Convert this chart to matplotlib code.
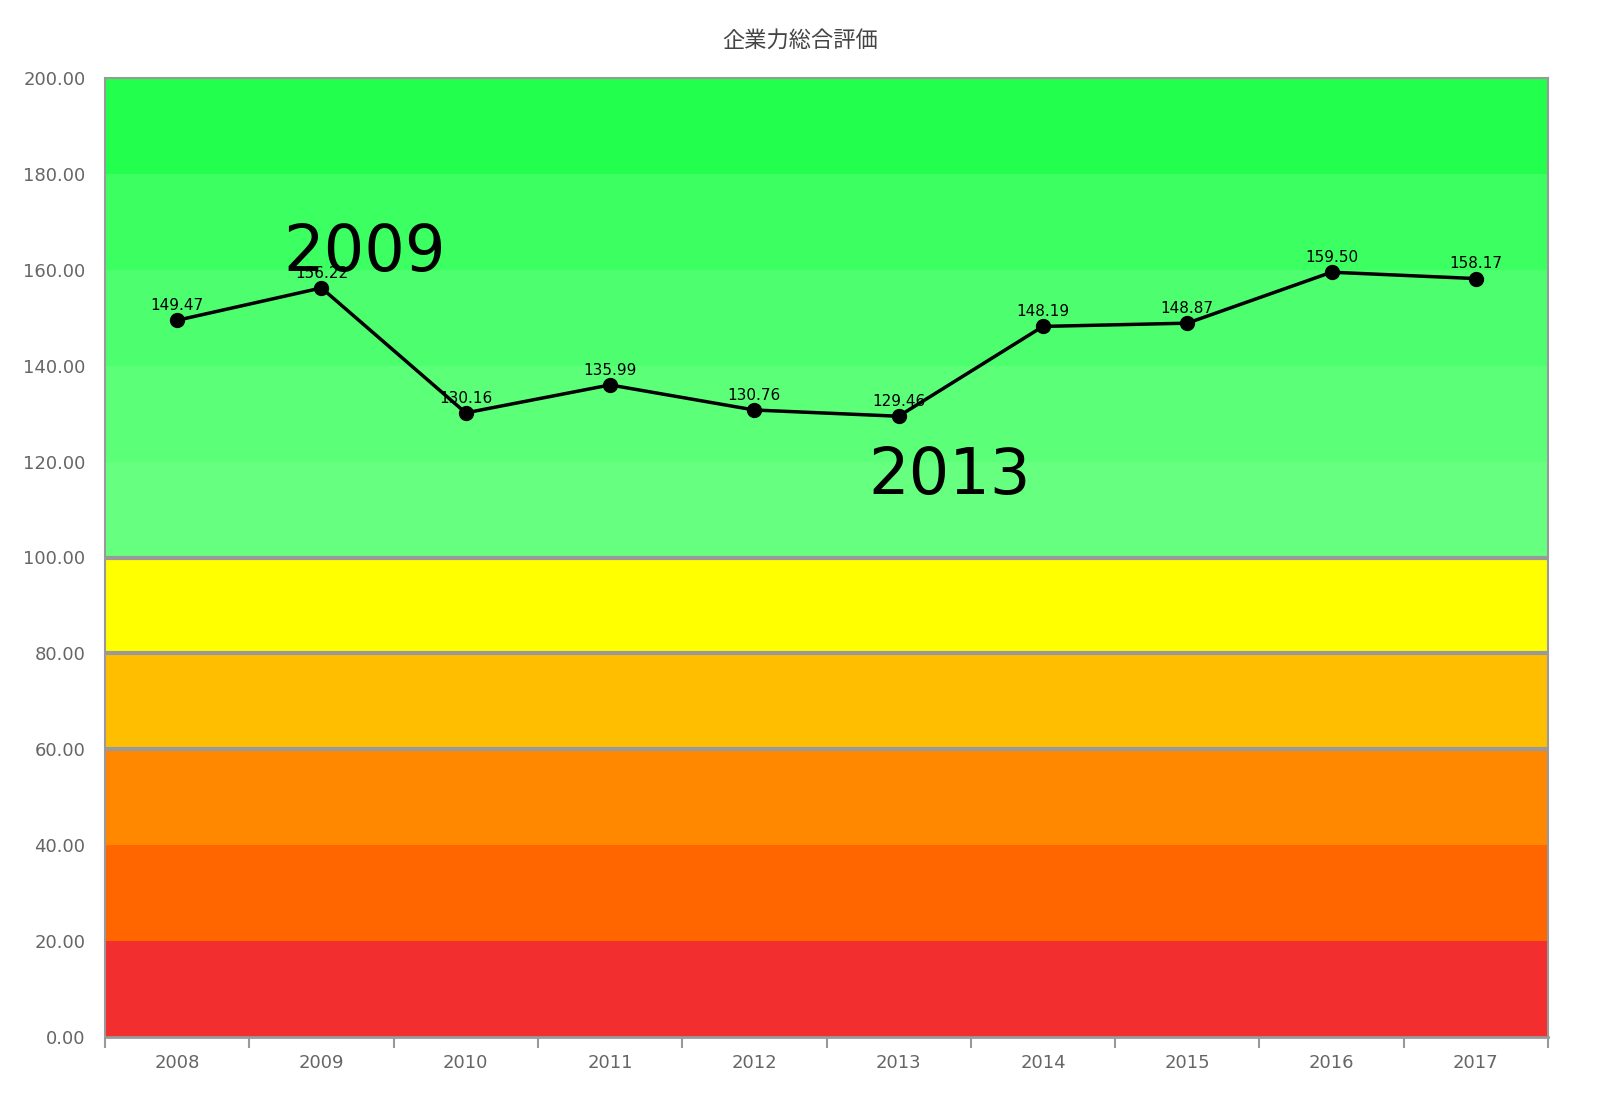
import matplotlib.pyplot as plt
import numpy as np

plt.rcParams['font.family'] = ['Noto Sans CJK JP', 'DejaVu Sans']

years = ['2008', '2009', '2010', '2011', '2012', '2013', '2014', '2015', '2016', '2017']
scores = [149.47, 156.22, 130.16, 135.99, 130.76, 129.46, 148.19, 148.87, 159.50, 158.17]

band_edges = [0, 20, 40, 60, 80, 100, 120, 140, 160, 180, 200]
band_colors = ['#f22e2e', '#ff6600', '#ff8800', '#ffbf00', '#ffff00',
               '#66ff80', '#5cff78', '#4dff6e', '#3cff62', '#22ff4c']
sep_lines = [60, 80, 100]

fig = plt.figure(figsize=(16, 11.2), dpi=100)
ax = fig.add_axes([105 / 1600, 1 - 1037 / 1120, 1443 / 1600, 959 / 1120])

for lo, hi, c in zip(band_edges[:-1], band_edges[1:], band_colors):
    ax.axhspan(lo, hi, color=c, lw=0, zorder=0)
for y in sep_lines:
    ax.axhline(y, color='#999999', lw=3, zorder=1)

x = np.arange(len(years))
ax.plot(x, scores, color='black', lw=2.5, marker='o', ms=10, zorder=3)
for xi, v in zip(x, scores):
    ax.text(xi, v + 1.5, f'{v:.2f}', ha='center', va='bottom', fontsize=11,
            family='DejaVu Sans', zorder=4)

ax.text(1.3, 157, '2009', fontsize=46, ha='center', va='bottom', family='DejaVu Sans', zorder=5)
ax.text(5.35, 117, '2013', fontsize=46, ha='center', va='center', family='DejaVu Sans', zorder=5)

ax.set_xlim(-0.5, len(years) - 0.5)
ax.set_ylim(0, 200)
ax.set_yticks(band_edges)
ax.set_yticklabels([f'{v:.2f}' for v in band_edges], fontsize=13, color='#666666',
                   family='DejaVu Sans')
ax.set_xticks(x)
ax.set_xticklabels(years, fontsize=13, color='#666666', family='DejaVu Sans')
ax.set_xticks(np.arange(-0.5, len(years)), minor=True)
ax.tick_params(axis='x', which='major', length=0, pad=12)
ax.tick_params(axis='x', which='minor', length=8, color='#999999', width=1.5)
ax.tick_params(axis='y', length=0, pad=14)
for s in ax.spines.values():
    s.set_color('#999999')
    s.set_linewidth(1.5)
ax.spines['bottom'].set_linewidth(2)

fig.text(0.5, 1 - 40 / 1120, '企業力総合評価', ha='center', va='center', fontsize=16, color='#444444')

fig.savefig('out.png', dpi=100)
